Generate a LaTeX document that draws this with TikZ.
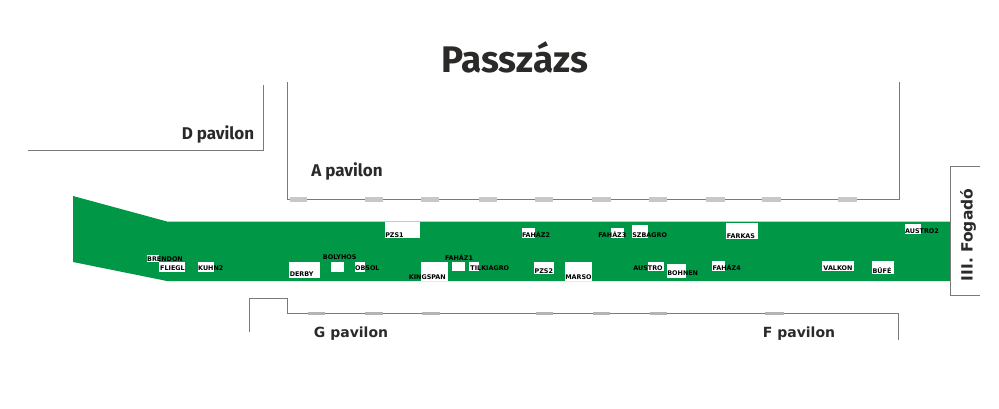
\documentclass[tikz,border=0pt]{standalone}
\usepackage{fontspec}
\setmainfont{DejaVu Sans}
\newfontfamily\titlefont{Fira Sans}
\usepackage{xcolor}
\definecolor{stand}{HTML}{009846}
\definecolor{wall}{HTML}{7A7A7A}
\definecolor{door}{HTML}{C8C8C8}
\definecolor{doorlow}{HTML}{B4B4B4}
\definecolor{ink}{HTML}{2B2A29}
\tikzset{
  wallline/.style={draw=wall,line width=0.95pt},
  standbox/.style={fill=white,draw=none},
  standlabel/.style={font=\bfseries\fontsize{6.4}{6.4}\selectfont,text=black,inner sep=0pt},
  pavlabel/.style={font=\bfseries\fontsize{14}{14}\selectfont,text=ink,inner sep=0pt},
  pavlabelb/.style={font=\titlefont\bfseries\fontsize{17}{17}\selectfont,text=ink,inner sep=0pt}
}
\begin{document}
\begin{tikzpicture}[x=1pt,y=-1pt]
  \useasboundingbox (0,0) rectangle (999,408);
  % green area
  \fill[stand] (73,196)--(167,221.5)--(950,221.5)--(950,281)--(167,281)--(73,262)--cycle;
  % walls
  \draw[wallline] (28,150)--(263.5,150)--(263.5,85);
  \draw[wallline] (287,82)--(287,199.5)--(899,199.5)--(899,82);
  \draw[wallline] (249.5,331.5)--(249.5,298)--(287,298)--(287,313.3)--(898.5,313.3)--(898.5,340);
  \draw[wallline] (980,166)--(950.3,166)--(950.3,295)--(980,295);
  % doors
  \foreach \xa/\xb in {290/307,365/383,421/439,479/497,535/553,592/611,649/667,706/725,762/781,838/857}
    \fill[door] (\xa,197.3) rectangle (\xb,201.7);
  \foreach \xa/\xb in {308/325,365/383,422/440,536/553,593/610,650/667,765/784}
    \fill[doorlow] (\xa,311.5) rectangle (\xb,315);
  % stands
  \foreach \xa/\ya/\xb/\yb in {
    146.7/255/159.3/261.7, 159.3/261.7/185/271.7, 197.7/261.7/213.7/271.7,
    288.7/261.7/320.3/277.7, 330.7/261.7/343.7/271.5, 355/261.7/364.7/271.7,
    384.7/221.5/419.7/238, 521.7/228.3/534.7/238, 611/228.3/624/238,
    632/225/648/238, 420.7/261.7/447.7/281, 452.3/261.7/465/271.3,
    469/261.7/478.7/271.3, 534.3/261.7/553.7/274.3, 564.7/261.7/591.7/281,
    648/261.7/664/271.3, 667/264/686/277.7, 712/261.3/725/271.3,
    725.7/223.3/757.7/239.3, 905/224.3/920.7/234, 822.3/261.3/854/271.3,
    872/261.3/894/274}
    \fill[standbox] (\xa,\ya) rectangle (\xb,\yb);
  % stand names
  \node[standlabel] (brendon) at (165,258.7) {BRENDON};
  \node[standlabel] (fliegl) at (172.5,267.7) {FLIEGL};
  \node[standlabel] (kuhn) at (210.8,267.7) {KUHN2};
  \node[standlabel] (derby) at (301.7,274) {DERBY};
  \node[standlabel] (bolyhos) at (339.7,257.3) {BOLYHOS};
  \node[standlabel] (obsol) at (367.3,267.7) {OBSOL};
  \node[standlabel] (pzsa) at (394.5,234.7) {PZS1};
  \node[standlabel] (fahazb) at (536,234.7) {FAHÁZ2};
  \node[standlabel] (fahazc) at (612.3,234.7) {FAHÁZ3};
  \node[standlabel] (szbagro) at (649.7,234.7) {SZBAGRO};
  \node[standlabel] (fahaza) at (459,257.3) {FAHÁZ1};
  \node[standlabel] (kingspan) at (427.3,277.3) {KINGSPAN};
  \node[standlabel] (tilkiagro) at (489.8,267.7) {TILKIAGRO};
  \node[standlabel] (pzsb) at (543.8,271) {PZS2};
  \node[standlabel] (marso) at (578.5,277.3) {MARSO};
  \node[standlabel] (austro) at (648,267.7) {AUSTRO};
  \node[standlabel] (bohnen) at (682.7,273.3) {BOHNEN};
  \node[standlabel] (fahazd) at (726.7,267.7) {FAHÁZ4};
  \node[standlabel] (farkas) at (741,235.7) {FARKAS};
  \node[standlabel] (austrob) at (922,230.7) {AUSTRO2};
  \node[standlabel] (valkon) at (838,267.7) {VALKON};
  \node[standlabel] (bufe) at (882,270.7) {BÜFÉ};
  % big labels
  \node[font=\titlefont\bfseries\fontsize{37}{37}\selectfont,text=ink,inner sep=0pt] (title) at (514.5,57) {Passzázs};
  \node[pavlabelb] (dpav) at (218,134) {D pavilon};
  \node[pavlabelb] (apav) at (347,171) {A pavilon};
  \node[pavlabel] (gpav) at (351,333.5) {G pavilon};
  \node[pavlabel] (fpav) at (799,333.5) {F pavilon};
  \node[pavlabel,font=\bfseries\fontsize{15.5}{15.5}\selectfont,rotate=90] (fogado) at (968,235) {III. Fogadó};
\end{tikzpicture}
\end{document}
